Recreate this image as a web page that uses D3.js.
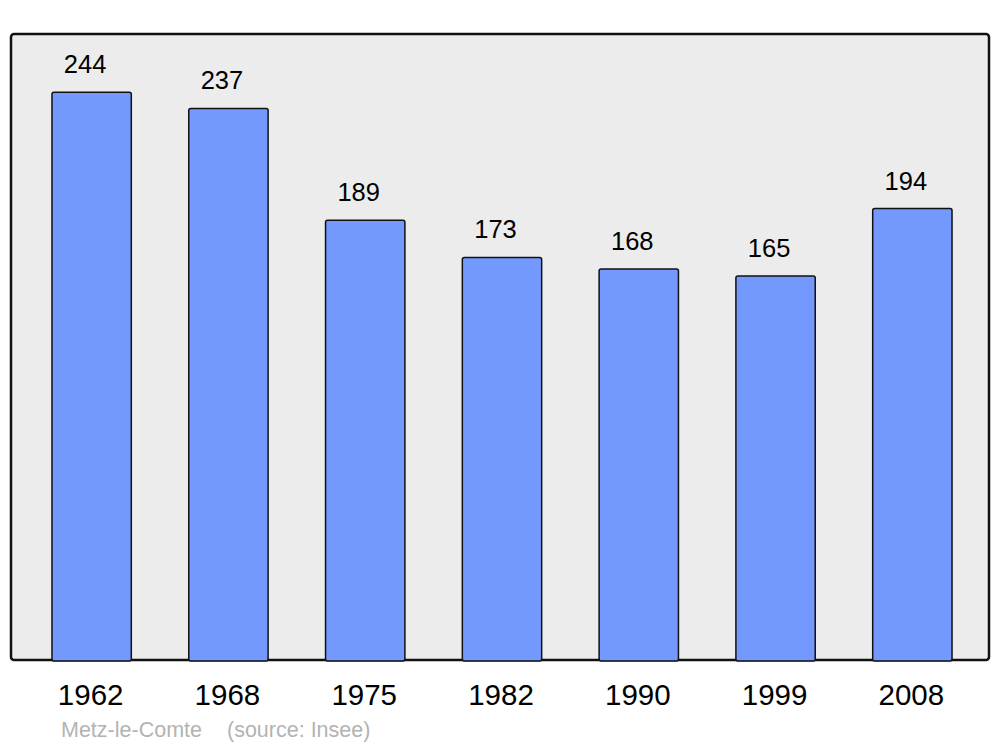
<!DOCTYPE html>
<html>
<head>
<meta charset="utf-8">
<script src="https://cdn.jsdelivr.net/npm/d3@7"></script>
<style>
  body { margin: 0; background: #fff; }
  svg { display: block; font-family: "Liberation Sans", Arial, sans-serif; }
</style>
</head>
<body>
<script>
// population by census year
var years = ["1962", "1968", "1975", "1982", "1990", "1999", "2008"];
var population = [244, 237, 189, 173, 168, 165, 194];
var commune = "Metz-le-Comte";
var source = "(source: Insee)";

var width = 1000, height = 747;
var frame = { left: 11, top: 34, right: 989, bottom: 660 };

var svg = d3.select("body").append("svg")
    .attr("width", width)
    .attr("height", height);

svg.append("rect")
    .attr("x", frame.left)
    .attr("y", frame.top)
    .attr("width", frame.right - frame.left)
    .attr("height", frame.bottom - frame.top)
    .attr("rx", 3)
    .attr("fill", "#ececec")
    .attr("stroke", "#111")
    .attr("stroke-width", 2.5);

var x = d3.scaleBand()
    .domain(years)
    .range([14.5, 989.5])
    .paddingInner(0.42)
    .paddingOuter(0.274);

var y = d3.scaleLinear()
    .domain([0, 269])
    .range([frame.bottom, frame.top]);

var data = years.map(function(d, i) { return { year: d, value: population[i] }; });

svg.selectAll("rect.bar")
    .data(data)
    .enter().append("rect")
    .attr("class", "bar")
    .attr("x", function(d) { return x(d.year); })
    .attr("y", function(d) { return y(d.value); })
    .attr("width", x.bandwidth())
    .attr("height", function(d) { return y(0) - y(d.value) + 1; })
    .attr("rx", 2)
    .attr("fill", "#7399ff")
    .attr("stroke", "#111")
    .attr("stroke-width", 1.5);

svg.selectAll("text.value")
    .data(data)
    .enter().append("text")
    .attr("class", "value")
    .attr("x", function(d) { return x(d.year) + x.bandwidth() / 2 - 6.5; })
    .attr("y", function(d) { return y(d.value) - 19; })
    .attr("text-anchor", "middle")
    .attr("font-size", 25.5)
    .attr("fill", "#000")
    .text(function(d) { return d.value; });

// year labels under the frame (axis without domain/ticks)
var axis = svg.append("g")
    .attr("transform", "translate(-1," + frame.bottom + ")")
    .call(d3.axisBottom(x).tickSize(0).tickPadding(0));
axis.select(".domain").remove();
axis.selectAll("text")
    .attr("y", 45)
    .attr("dy", null)
    .attr("font-size", 29.5)
    .attr("font-family", "Liberation Sans, Arial, sans-serif")
    .attr("fill", "#000");

svg.append("text")
    .attr("x", 61)
    .attr("y", 737)
    .attr("font-size", 21.5)
    .attr("fill", "#b3b3b3")
    .text(commune);

svg.append("text")
    .attr("x", 227)
    .attr("y", 737)
    .attr("font-size", 21.5)
    .attr("fill", "#b3b3b3")
    .text(source);
</script>
</body>
</html>
